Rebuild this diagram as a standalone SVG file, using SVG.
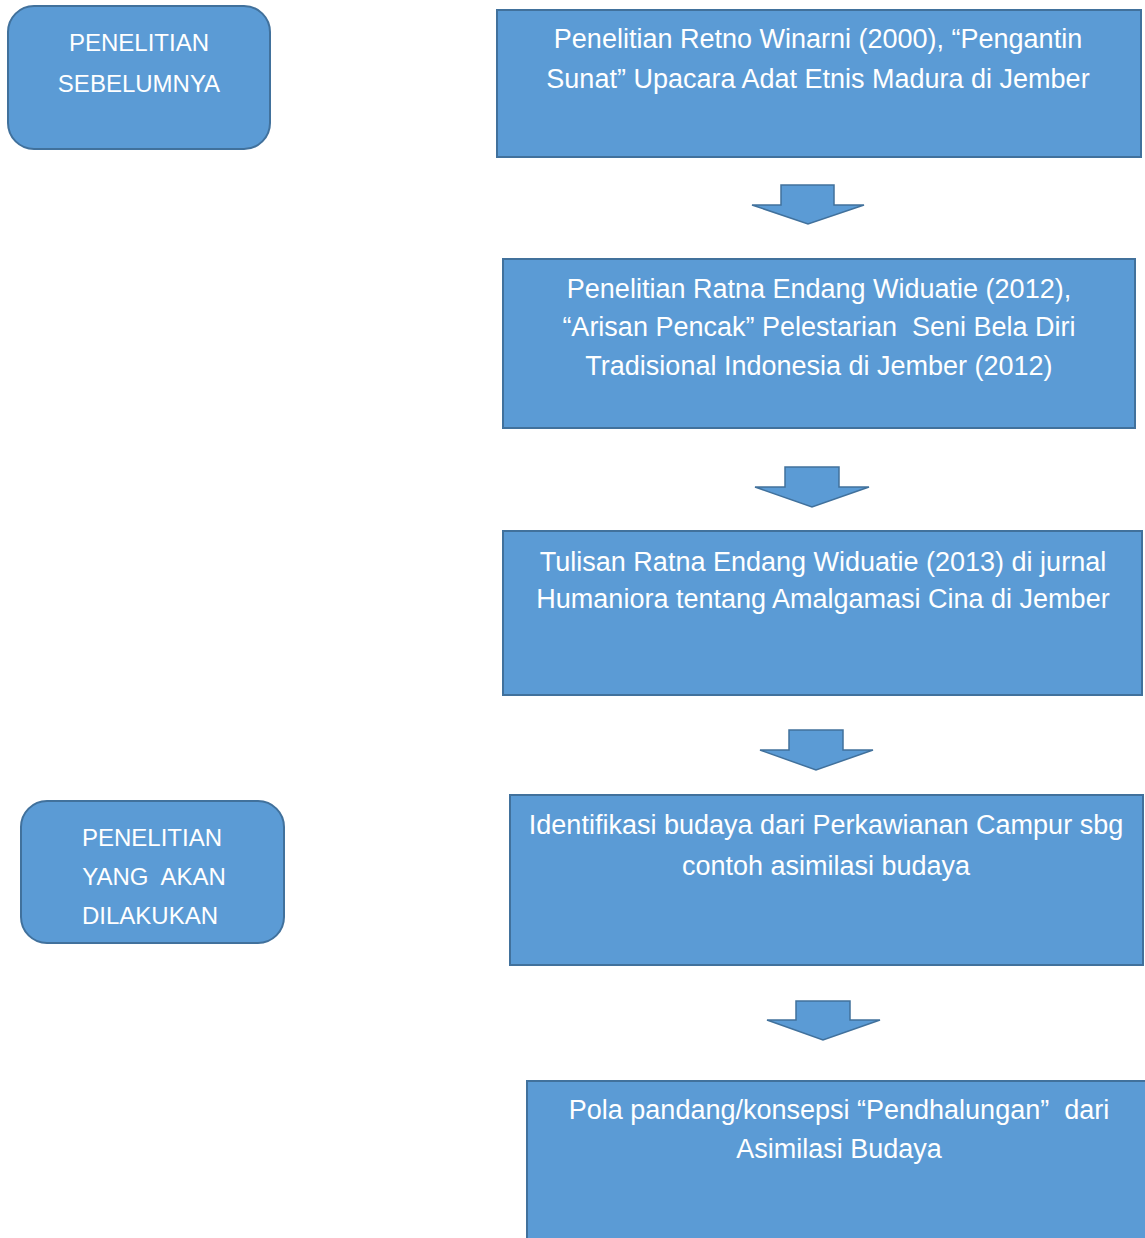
<svg xmlns="http://www.w3.org/2000/svg" width="1145" height="1238" viewBox="0 0 1145 1238">
<style>
.box{fill:#5B9BD5;stroke:#41719C;stroke-width:2}
.arr{fill:#5B9BD5;stroke:#41719C;stroke-width:1.5;stroke-linejoin:miter}
.t{font-family:"Liberation Sans",Arial,sans-serif;font-size:27px;fill:#FFFFFF;text-anchor:middle;white-space:pre}
.c{font-family:"Liberation Sans",Arial,sans-serif;font-size:24px;fill:#FFFFFF;text-anchor:middle;white-space:pre}
</style>
<rect width="1145" height="1238" fill="#FFFFFF"/>
<g id="label-sebelumnya">
<rect class="box" x="8" y="6" width="262" height="143" rx="26" ry="26"/>
<text class="c" x="139" y="51">PENELITIAN</text>
<text class="c" x="139" y="92">SEBELUMNYA</text>
</g>
<g id="label-akan">
<rect class="box" x="21" y="801" width="263" height="142" rx="26" ry="26"/>
<text class="c" x="152" y="846">PENELITIAN</text>
<text class="c" x="154" y="885" xml:space="preserve">YANG  AKAN</text>
<text class="c" x="150" y="924">DILAKUKAN</text>
</g>
<g id="box1">
<rect class="box" x="497" y="10" width="644" height="147"/>
<text class="t" x="818" y="48">Penelitian Retno Winarni (2000), “Pengantin</text>
<text class="t" x="818" y="88">Sunat” Upacara Adat Etnis Madura di Jember</text>
</g>
<g id="box2">
<rect class="box" x="503" y="259" width="632" height="169"/>
<text class="t" x="819" y="298">Penelitian Ratna Endang Widuatie (2012),</text>
<text class="t" x="819" y="336" xml:space="preserve">“Arisan Pencak” Pelestarian  Seni Bela Diri</text>
<text class="t" x="819" y="375">Tradisional Indonesia di Jember (2012)</text>
</g>
<g id="box3">
<rect class="box" x="503" y="531" width="639" height="164"/>
<text class="t" x="823" y="571">Tulisan Ratna Endang Widuatie (2013) di jurnal</text>
<text class="t" x="823" y="608">Humaniora tentang Amalgamasi Cina di Jember</text>
</g>
<g id="box4">
<rect class="box" x="510" y="795" width="633" height="170"/>
<text class="t" x="826" y="834">Identifikasi budaya dari Perkawianan Campur sbg</text>
<text class="t" x="826" y="875">contoh asimilasi budaya</text>
</g>
<g id="box5">
<rect class="box" x="527" y="1081" width="630" height="200"/>
<text class="t" x="839" y="1119" xml:space="preserve">Pola pandang/konsepsi “Pendhalungan”  dari</text>
<text class="t" x="839" y="1158">Asimilasi Budaya</text>
</g>
<g id="connectors">
<polygon class="arr" points="781,185 834,185 834,205 864,205 808,224 752,205 781,205"/>
<polygon class="arr" points="785,467 839,467 839,487 869,487 812,507 755,487 785,487"/>
<polygon class="arr" points="789,730 843,730 843,750 873,750 816,770 760,750 789,750"/>
<polygon class="arr" points="796,1001 850,1001 850,1020 880,1020 823,1040 767,1020 796,1020"/>
</g>
</svg>
